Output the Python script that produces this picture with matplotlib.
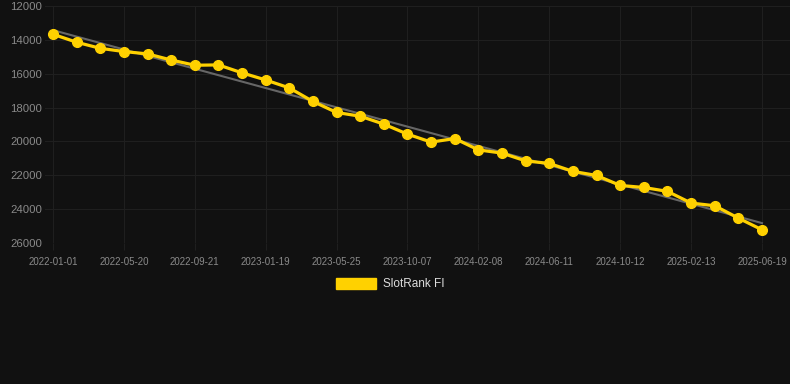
import matplotlib
matplotlib.use("Agg")
import matplotlib.pyplot as plt
from matplotlib.patches import Patch
import numpy as np

plt.rcParams['font.family'] = ['Liberation Sans', 'DejaVu Sans']

series_name = "SlotRank FI"
tick_labels = ["2022-01-01", "2022-05-20", "2022-09-21", "2023-01-19", "2023-05-25",
               "2023-10-07", "2024-02-08", "2024-06-11", "2024-10-12", "2025-02-13",
               "2025-06-19"]
ranks = [13670, 14140, 14500, 14690, 14830, 15190, 15500, 15480, 15950, 16370,
         16840, 17640, 18290, 18510, 18980, 19570, 20040, 19830, 20500, 20690,
         21150, 21300, 21770, 22010, 22600, 22720, 22950, 23640, 23800, 24530,
         25220]
y_ticks = [12000, 14000, 16000, 18000, 20000, 22000, 24000, 26000]

BG = "#111111"
GOLD = "#FFD100"
GRID = "#1f1f1f"
TXT = "#8a8a8a"

fig = plt.figure(figsize=(7.9, 3.84), dpi=100, facecolor=BG)
ax = fig.add_axes([45/790, 1-243/384, 745/790, (243-6)/384])
ax.set_facecolor(BG)

x = np.arange(len(ranks))
coef = np.polyfit(x, ranks, 1)
trend = np.polyval(coef, x[[0, -1]])
ax.plot(x[[0, -1]], trend, color="#666666", lw=1.5, zorder=2)
ax.plot(x, ranks, color=GOLD, lw=2.3, marker='o', ms=7, mec=GOLD, mfc=GOLD, zorder=3)

ax.set_ylim(26000, 12000)
ax.set_xlim(-8/23.63, 30 + 28/23.63)
ax.set_yticks(y_ticks)
ax.set_yticklabels([str(v) for v in y_ticks])
ax.set_xticks(x[::3])
ax.set_xticklabels(tick_labels)

ax.grid(True, color=GRID, lw=0.8)
ax.set_axisbelow(True)
for s in ax.spines.values():
    s.set_visible(False)
ax.tick_params(axis='y', length=0, pad=2, labelsize=8.2, labelcolor=TXT)
ax.tick_params(axis='x', length=5, color=GRID, pad=5, labelsize=7, labelcolor=TXT)

handle = Patch(facecolor=GOLD, edgecolor=GOLD)
fig.legend([handle], [series_name], loc='center', bbox_to_anchor=(390/790, 1-284/384),
           frameon=False, fontsize=8.5, labelcolor="#dddddd", handlelength=3.4,
           handleheight=1.1, handletextpad=0.55)

fig.savefig("out.png", dpi=100, facecolor=BG)
